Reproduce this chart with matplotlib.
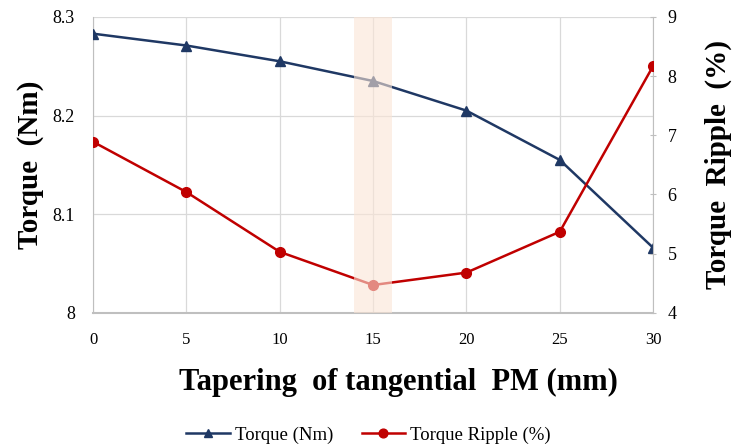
import matplotlib
matplotlib.use("Agg")
import matplotlib.pyplot as plt

plt.rcParams['font.family'] = ['Liberation Serif', 'DejaVu Serif']

# Tapering of the tangential PM and resulting torque / ripple
taper_mm = [0, 5, 10, 15, 20, 25, 30]
torque_nm = [8.283, 8.271, 8.255, 8.235, 8.205, 8.155, 8.066]
ripple_pct = [6.89, 6.04, 5.03, 4.47, 4.68, 5.37, 8.17]
highlight = (14, 16)

navy = "#1F3864"
red = "#C00000"
grid_c = "#D9D9D9"
spine_c = "#BFBFBF"

fig = plt.figure(figsize=(7.33, 4.45), dpi=100)
ax1 = fig.add_axes([0.127, 0.297, 0.764, 0.665])
ax2 = ax1.twinx()

l1, = ax1.plot(taper_mm, torque_nm, color=navy, lw=1.8, marker="^", ms=7,
               label="Torque (Nm)", zorder=3)
l2, = ax2.plot(taper_mm, ripple_pct, color=red, lw=1.8, marker="o", ms=7,
               label="Torque Ripple (%)", zorder=3)

# shaded band over the chosen design, drawn on top of both lines
ax2.axvspan(*highlight, color="#FBE5D6", alpha=0.6, lw=0, zorder=5)

ax1.set_xlim(0, 30)
ax1.set_ylim(8.0, 8.3)
ax2.set_ylim(4, 9)
ax1.set_xticks(taper_mm)
ax1.set_yticks([8.0, 8.1, 8.2, 8.3])
ax1.set_yticklabels(["8", "8.1", "8.2", "8.3"])
ax2.set_yticks(range(4, 10))

ax1.grid(True, color=grid_c, lw=0.9)
ax1.set_axisbelow(True)

for ax in (ax1, ax2):
    for s in ax.spines.values():
        s.set_visible(False)
ax1.spines["left"].set_visible(True)
ax1.spines["bottom"].set_visible(True)
ax2.spines["right"].set_visible(True)
ax1.spines["left"].set_color(spine_c)
ax1.spines["bottom"].set_color(spine_c)
ax2.spines["right"].set_color(spine_c)
ax1.spines["bottom"].set_linewidth(1.5)

ax1.tick_params(axis="x", length=0, pad=14, labelsize=12)
ax1.tick_params(axis="y", length=0, pad=13, labelsize=13)
ax2.tick_params(axis="y", length=5, color=spine_c, direction="inout",
                pad=8, labelsize=13)

ax1.set_ylabel("Torque  (Nm)", fontsize=21, fontweight="bold", labelpad=6)
ax2.set_ylabel("Torque  Ripple  (%)", fontsize=21, fontweight="bold",
               labelpad=20)
ax1.set_xlabel("Tapering  of tangential  PM (mm)", fontsize=22,
               fontweight="bold", labelpad=14, x=0.545)

fig.legend(handles=[l1, l2], loc="lower center", ncol=2, frameon=False,
           fontsize=13.5, bbox_to_anchor=(0.503, -0.035), handlelength=2.3,
           handletextpad=0.3, columnspacing=1.5, markerscale=0.9)

fig.savefig("out.png", dpi=100)
